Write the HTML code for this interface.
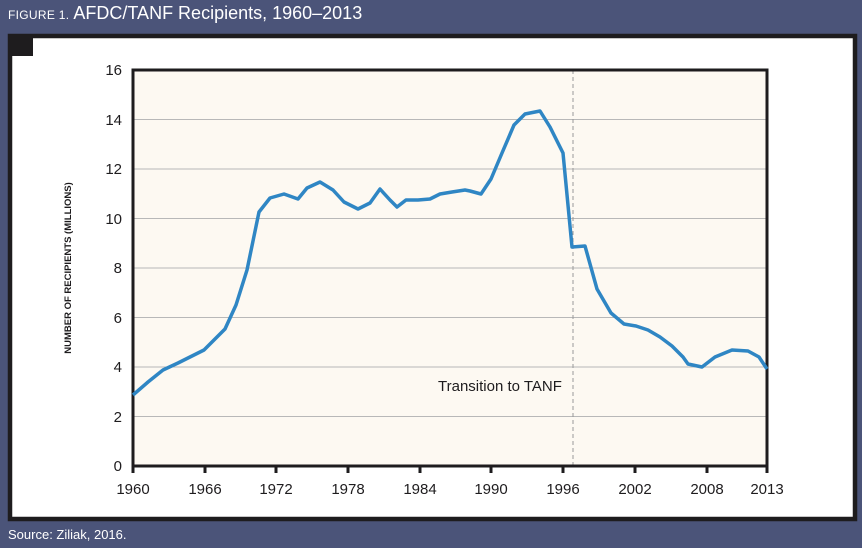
<!DOCTYPE html>
<html><head><meta charset="utf-8"><style>
html,body{margin:0;padding:0;}
body{width:862px;height:548px;background:#4b5479;position:relative;overflow:hidden;font-family:"Liberation Sans",sans-serif;}
.title{position:absolute;left:8px;top:3px;color:#fff;font-size:18px;white-space:nowrap;}
.title .sc{font-size:12px;letter-spacing:0.3px;}
.src{position:absolute;left:8px;top:527px;color:#fff;font-size:13px;}
</style></head><body>
<div class="title"><span class="sc">FIGURE 1.</span> AFDC/TANF Recipients, 1960–2013</div>
<svg width="862" height="548" style="position:absolute;left:0;top:0">
<rect x="10" y="36" width="845" height="483" fill="#fff" stroke="#1e1c1e" stroke-width="4.5"/>
<rect x="8" y="34" width="25" height="22" fill="#1e1c1e"/>
<rect x="133" y="70" width="634" height="396" fill="#fdf9f2"/>
<g stroke="#b8b8b8" stroke-width="1">
<line x1="133" x2="767" y1="416.5" y2="416.5"/><line x1="133" x2="767" y1="367" y2="367"/>
<line x1="133" x2="767" y1="317.5" y2="317.5"/><line x1="133" x2="767" y1="268" y2="268"/>
<line x1="133" x2="767" y1="218.5" y2="218.5"/><line x1="133" x2="767" y1="169" y2="169"/>
<line x1="133" x2="767" y1="119.5" y2="119.5"/>
</g>
<line x1="573" x2="573" y1="70" y2="466" stroke="#999" stroke-width="1" stroke-dasharray="4,3"/>
<rect x="133" y="70" width="634" height="396" fill="none" stroke="#1e1c1e" stroke-width="3"/>
<g stroke="#1e1c1e" stroke-width="3">
<line x1="133" x2="133" y1="466" y2="473"/><line x1="205" x2="205" y1="466" y2="473"/>
<line x1="276" x2="276" y1="466" y2="473"/><line x1="348" x2="348" y1="466" y2="473"/>
<line x1="420" x2="420" y1="466" y2="473"/><line x1="491" x2="491" y1="466" y2="473"/>
<line x1="563" x2="563" y1="466" y2="473"/><line x1="635" x2="635" y1="466" y2="473"/>
<line x1="707" x2="707" y1="466" y2="473"/><line x1="767" x2="767" y1="466" y2="473"/>
</g>
<polyline fill="none" stroke="#2f86c4" stroke-width="3.5" stroke-linejoin="round" points="133,395 148,382 163,370 178,363 190,357 204,350 214,340 225,329 236,305 247,270 259,212 270,198 284,194 298,199 307,188 320,182 333,190 344,202 358,209 370,203 380,189 390,200 397,207 406,200 418,200 430,199 440,194 452,192 465,190 470,191 481,194 491,179 502,153 514,125 525,114 540,111 550,127 563,153 572,247 585,246 597,289 611,313 624,324 636,326 648,330 660,337 672,346 683,357 688,364 702,367 715,357 732,350 748,351 759,357 767,369"/>
<g font-size="15" fill="#1e1c1e" text-anchor="end">
<text x="122" y="471">0</text><text x="122" y="422">2</text><text x="122" y="372">4</text>
<text x="122" y="323">6</text><text x="122" y="273">8</text><text x="122" y="224">10</text>
<text x="122" y="174">12</text><text x="122" y="125">14</text><text x="122" y="75">16</text>
</g>
<g font-size="15" fill="#1e1c1e" text-anchor="middle">
<text x="133" y="494">1960</text><text x="205" y="494">1966</text><text x="276" y="494">1972</text>
<text x="348" y="494">1978</text><text x="420" y="494">1984</text><text x="491" y="494">1990</text>
<text x="563" y="494">1996</text><text x="635" y="494">2002</text><text x="707" y="494">2008</text>
<text x="767" y="494">2013</text>
</g>
<text x="438" y="391" font-size="15" fill="#1e1c1e">Transition to TANF</text>
<text transform="translate(71,268) rotate(-90)" text-anchor="middle" font-size="9.5" font-weight="bold" fill="#1e1c1e">NUMBER OF RECIPIENTS (MILLIONS)</text>
</svg>
<div class="src">Source: Ziliak, 2016.</div>
</body></html>
